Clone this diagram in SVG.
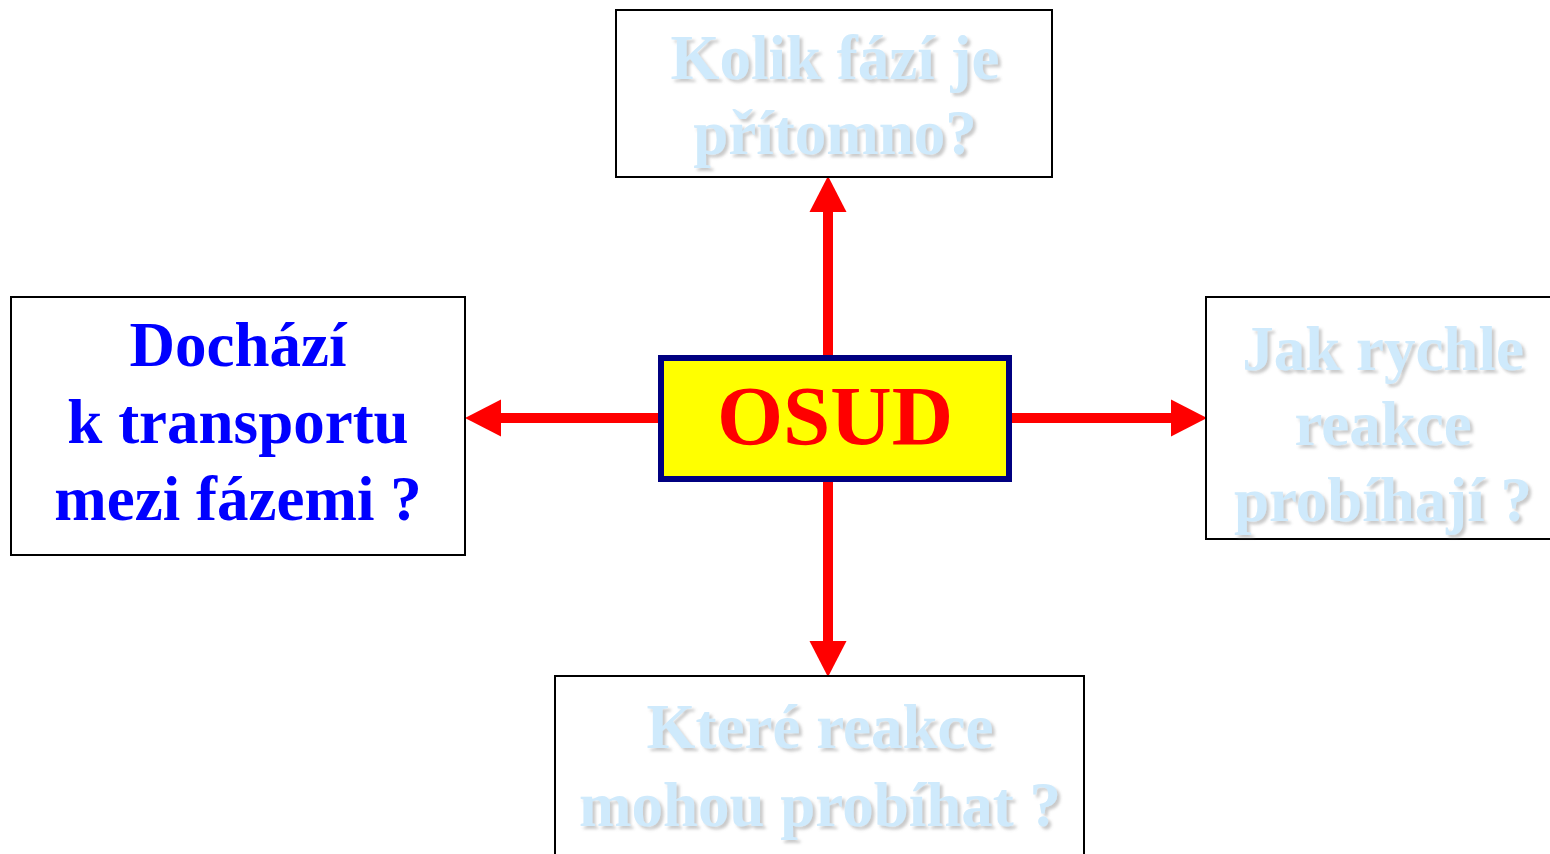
<svg xmlns="http://www.w3.org/2000/svg" width="1550" height="854" viewBox="0 0 1550 854">
<style>
.box{fill:#ffffff;stroke:#000000;stroke-width:2}
.t{font-family:"Liberation Serif","Times New Roman",serif;font-weight:bold;font-size:63px;text-anchor:middle}
.pale{fill:#cfeafc;filter:url(#sh)}
.blue{fill:#0000ff}
.arr{stroke:#ff0000;stroke-width:10;fill:none;marker-end:url(#ah)}
</style>
<defs>
<filter id="sh" x="-10%" y="-20%" width="120%" height="150%">
<feDropShadow dx="3" dy="3" stdDeviation="1.5" flood-color="#8a8a8a" flood-opacity="0.45"/>
</filter>
<marker id="ah" markerUnits="userSpaceOnUse" markerWidth="36" markerHeight="38" refX="0" refY="18" orient="auto" viewBox="0 0 35 36">
<path d="M0,0 L35,18 L0,36 Z" fill="#ff0000"/>
</marker>
</defs>
<rect width="1550" height="854" fill="#ffffff"/>
<g id="connectors">
<line class="arr" x1="828" y1="356" x2="828" y2="212"/>
<line class="arr" x1="828" y1="481" x2="828" y2="641"/>
<line class="arr" x1="659" y1="418" x2="501" y2="418"/>
<line class="arr" x1="1011" y1="418" x2="1171" y2="418"/>
</g>
<g id="top">
<rect class="box" x="616" y="10" width="436" height="167"/>
<text class="t pale" x="835" y="79">Kolik fází je</text>
<text class="t pale" x="835" y="154">přítomno?</text>
</g>
<g id="left">
<rect class="box" x="11" y="297" width="454" height="258"/>
<text class="t blue" x="238" y="366">Dochází</text>
<text class="t blue" x="238" y="443">k transportu</text>
<text class="t blue" x="238" y="520">mezi fázemi ?</text>
</g>
<g id="right">
<rect class="box" x="1206" y="297" width="360" height="242"/>
<text class="t pale" x="1383" y="370">Jak rychle</text>
<text class="t pale" x="1383" y="445">reakce</text>
<text class="t pale" x="1383" y="521">probíhají ?</text>
</g>
<g id="bottom">
<rect class="box" x="555" y="676" width="529" height="200"/>
<text class="t pale" x="820" y="748">Které reakce</text>
<text class="t pale" x="820" y="826">mohou probíhat ?</text>
</g>
<g id="center">
<rect x="661" y="358" width="348" height="121" fill="#ffff00" stroke="#000080" stroke-width="6"/>
<text class="t" x="835" y="445" style="font-size:85px;fill:#ff0000">OSUD</text>
</g>
</svg>
